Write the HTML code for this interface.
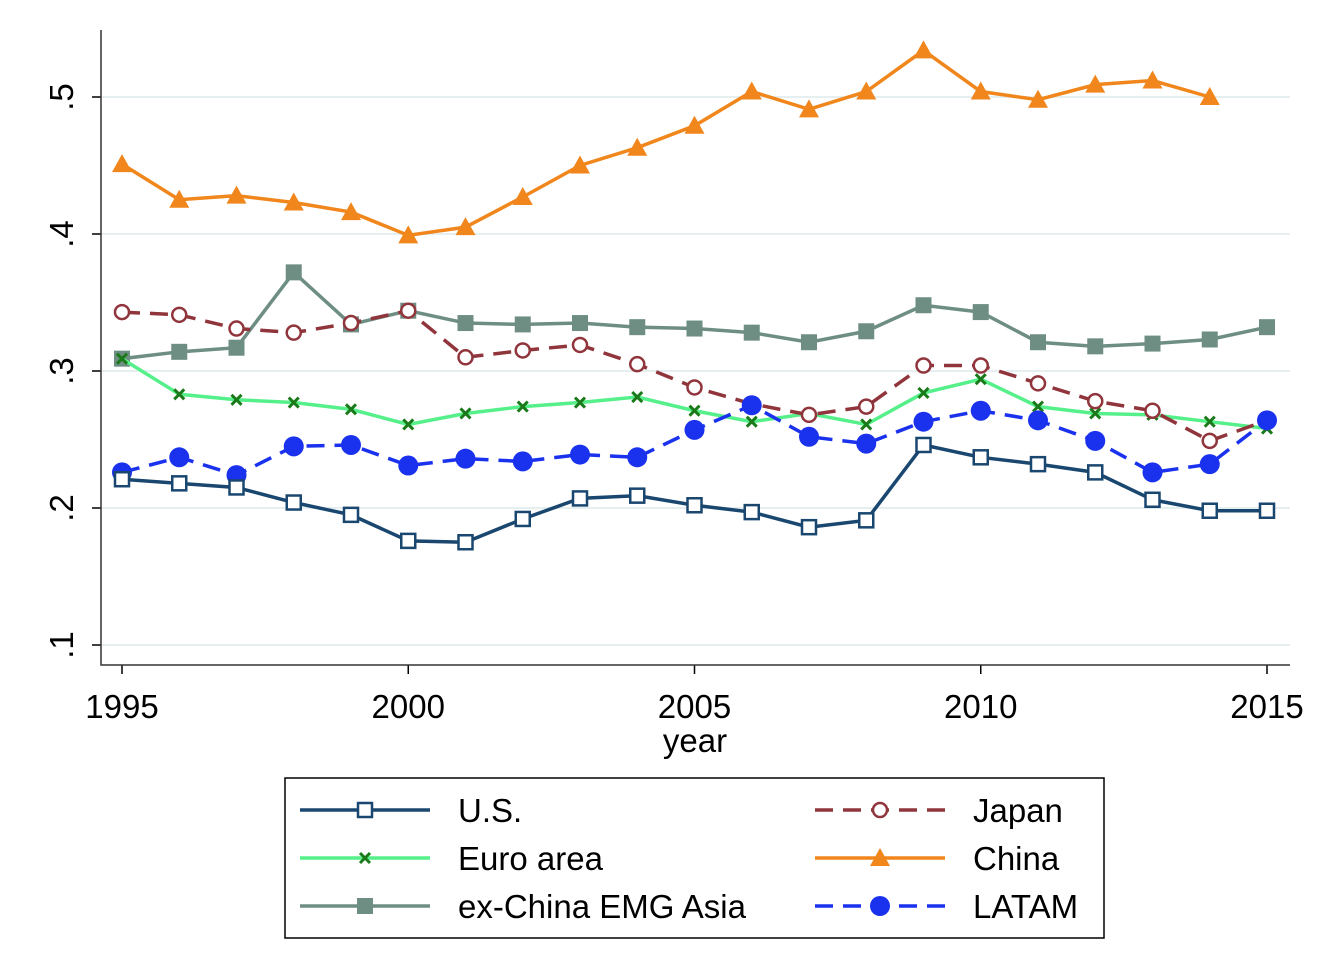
<!DOCTYPE html>
<html><head><meta charset="utf-8"><style>
body{margin:0;background:#fff;}
svg text{font-family:"Liberation Sans",sans-serif;fill:#000;}
</style></head><body>
<svg id="chart" width="1330" height="948" xmlns="http://www.w3.org/2000/svg"></svg>
<script>
const years=[1995,1996,1997,1998,1999,2000,2001,2002,2003,2004,2005,2006,2007,2008,2009,2010,2011,2012,2013,2014,2015];
const usVals=[.221,.218,.215,.204,.195,.176,.175,.192,.207,.209,.202,.197,.186,.191,.246,.237,.232,.226,.206,.198,.198];
const japanVals=[.343,.341,.331,.328,.335,.344,.310,.315,.319,.305,.288,.276,.268,.274,.304,.304,.291,.278,.271,.249,.264];
const euroVals=[.309,.283,.279,.277,.272,.261,.269,.274,.277,.281,.271,.263,.269,.261,.284,.294,.274,.269,.268,.263,.258];
const chinaVals=[.451,.425,.428,.423,.416,.399,.405,.427,.450,.463,.479,.504,.491,.504,.534,.504,.498,.509,.512,.500,null];
const exChinaVals=[.309,.314,.317,.372,.334,.344,.335,.334,.335,.332,.331,.328,.321,.329,.348,.343,.321,.318,.320,.323,.332];
const latamVals=[.226,.237,.224,.245,.246,.231,.236,.234,.239,.237,.257,.275,.252,.247,.263,.271,.264,.249,.226,.232,.264];
const yTicks=[.1,.2,.3,.4,.5];
const yTickLabels=[".1",".2",".3",".4",".5"];
const xTicks=[1995,2000,2005,2010,2015];
const NS="http://www.w3.org/2000/svg";
const svg=document.getElementById('chart');
const X=v=>122+(v-1995)*57.25;
const Y=v=>508-(v-.2)*1370;
function el(t,a,p){const e=document.createElementNS(NS,t);for(const k in a)e.setAttribute(k,a[k]);(p||svg).appendChild(e);return e;}
yTicks.forEach((t,i)=>{
 const g=el('line',{x1:101,x2:1290,y1:Y(t),y2:Y(t),stroke:'#e6eff0','stroke-width':2});
 
 
 const tk=el('line',{x1:92,x2:101,y1:Y(t),y2:Y(t),stroke:'#000','stroke-width':1.5});
 
 
 const tx=el('text',{x:73,y:Y(t),'font-size':33,'text-anchor':'middle',transform:`rotate(-90 73 ${Y(t)})`});
 tx.textContent=yTickLabels[i];
 
 
});
xTicks.forEach(t=>{
 const tk=el('line',{x1:X(t),x2:X(t),y1:665,y2:674,stroke:'#000','stroke-width':1.5});
 
 
 const tx=el('text',{x:X(t),y:718,'font-size':33,'text-anchor':'middle'});
 tx.textContent=t;
 
 
});
const ax=el('path',{d:'M101 30 V665 H1290',fill:'none',stroke:'#333','stroke-width':1.5});


const xt=el('text',{x:695,y:752,'font-size':33,'text-anchor':'middle'});
xt.textContent='year';



function marker(type,x,y,col,g){
 let m;
 if(type==='sq') m=el('rect',{x:x-7,y:y-7,width:14,height:14,fill:'#fff',stroke:col,'stroke-width':2.5},g);
 else if(type==='fsq') m=el('rect',{x:x-8,y:y-8,width:16,height:16,fill:col},g);
 else if(type==='oc') m=el('circle',{cx:x,cy:y,r:7,fill:'#fff',stroke:col,'stroke-width':2.5},g);
 else if(type==='fc') m=el('circle',{cx:x,cy:y,r:10,fill:col},g);
 else if(type==='tri') m=el('path',{d:`M${x} ${y-10}L${x+10} ${y+8}L${x-10} ${y+8}Z`,fill:col},g);
 else if(type==='x') m=el('path',{d:`M${x-5} ${y-5}L${x+5} ${y+5}M${x+5} ${y-5}L${x-5} ${y+5}`,stroke:'#1a7a1a','stroke-width':3},g);
 
 
}
const series=[
 {n:'us',v:usVals,c:'#1a476f',d:'',m:'sq',l:'U.S.'},
 {n:'japan',v:japanVals,c:'#90353b',d:'18 10',m:'oc',l:'Japan'},
 {n:'euro',v:euroVals,c:'#55f08a',d:'',m:'x',l:'Euro area'},
 {n:'china',v:chinaVals,c:'#f0861c',d:'',m:'tri',l:'China'},
 {n:'exchina',v:exChinaVals,c:'#6e8e84',d:'',m:'fsq',l:'ex-China EMG Asia'},
 {n:'latam',v:latamVals,c:'#1a32ee',d:'18 10',m:'fc',l:'LATAM'}];
const order=['exchina','china','euro','japan','latam','us'];
order.forEach(name=>{
 const s=series.find(q=>q.n===name);
 const g=el('g',{});
 
 
 let d='';
 years.forEach((yr,i)=>{if(s.v[i]!=null)d+=(d?'L':'M')+X(yr)+' '+Y(s.v[i]);});
 const p=el('path',{d:d,fill:'none',stroke:s.c,'stroke-width':3.5,'stroke-dasharray':s.d},g);
 
 
 years.forEach((yr,i)=>{if(s.v[i]!=null)marker(s.m,X(yr),Y(s.v[i]),s.c,g);});
});
const lg=el('g',{});


el('rect',{x:285,y:778,width:819,height:160,fill:'#fff',stroke:'#000','stroke-width':1.5},lg);
const pos=[['us',0,0],['japan',1,0],['euro',0,1],['china',1,1],['exchina',0,2],['latam',1,2]];
pos.forEach(([n,c,r])=>{
 const s=series.find(q=>q.n===n);
 const x0=c?815:300, y0=810+r*48;
 const e=el('g',{},lg);
 
 
 el('line',{x1:x0,x2:x0+130,y1:y0,y2:y0,stroke:s.c,'stroke-width':3.5,'stroke-dasharray':s.d},e);
 marker(s.m,x0+65,y0,s.c,e);
 const t=el('text',{x:x0+158,y:y0+12,'font-size':33},e);
 t.textContent=s.l;
});
</script>
</body></html>
